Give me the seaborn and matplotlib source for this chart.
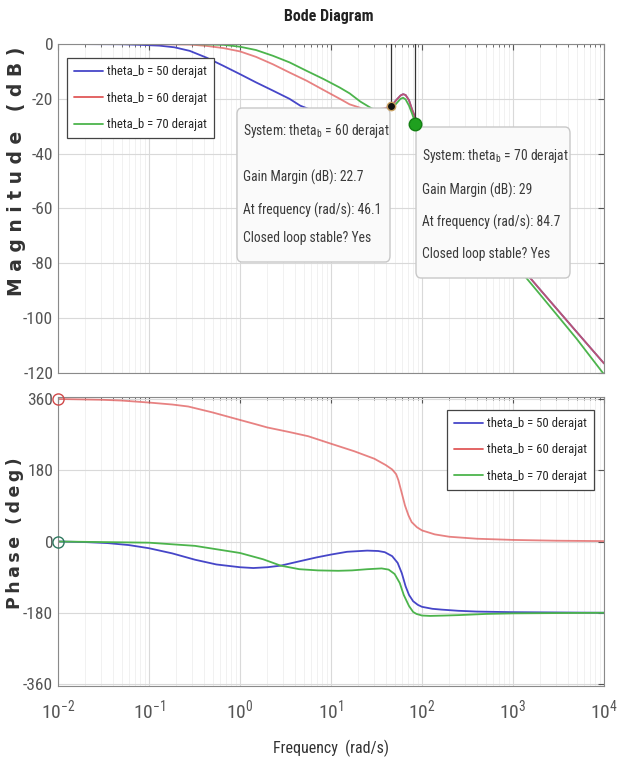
import numpy as np
import pandas as pd
import seaborn as sns
import matplotlib.pyplot as plt
from matplotlib import font_manager as fm
from matplotlib.patches import FancyBboxPatch
from matplotlib.lines import Line2D
from matplotlib.ticker import LogFormatterMathtext, FixedLocator, NullFormatter

# ---- data (freq in rad/s) ----
labels = ["theta_b = 50 derajat", "theta_b = 60 derajat", "theta_b = 70 derajat"]
colors = ["#4646c8", "#e05858", "#4cb44c"]

mag50_w = [0.01, 0.05, 0.08, 0.13, 0.19, 0.28, 0.43, 0.66, 1, 1.5, 2.3, 3.5, 4.6, 6, 8, 12, 18, 25, 32,
           40, 46.1, 52, 58, 62, 66, 72, 78, 84.7, 92, 100, 120, 150, 200, 300, 500, 1000, 2000, 5000, 10000]
mag50_db = [0, -0.1, -0.3, -0.6, -1.2, -2.5, -5, -8, -11, -14, -17, -20, -22.5, -24, -25.5, -26.5, -26.5,
            -25.5, -24.5, -23.5, -22.5, -20.5, -18.8, -18.3, -18.6, -20.5, -24, -27, -30, -33, -38, -42.5,
            -48.5, -55.5, -64.5, -78, -89.7, -105, -116.5]

mag60_w = [0.01, 0.1, 0.28, 0.43, 0.66, 1, 1.5, 2.3, 3.5, 5.4, 8.3, 12.5, 16, 22, 30, 38, 46.1, 52, 58, 62,
           66, 72, 78, 84.7, 92, 100, 120, 150, 200, 300, 500, 1000, 2000, 5000, 10000]
mag60_db = [0, -0.05, -0.2, -0.7, -1.5, -2.7, -4.7, -7.4, -10.4, -13.4, -16.8, -20, -22, -23.5, -24, -23.5,
            -22.7, -20.5, -18.8, -18.3, -18.6, -20.5, -24, -27, -30, -33, -38, -42.5, -48.5, -55.5, -64.5,
            -78, -89.7, -105, -116.5]

mag70_w = [0.01, 0.3, 0.66, 1, 1.5, 2.3, 3.5, 5.4, 8.3, 12.5, 16, 21, 28, 36, 42, 46.1, 52, 58, 62, 66, 72,
           78, 84.7, 92, 100, 120, 150, 200, 300, 500, 1000, 2000, 5000, 10000]
mag70_db = [0, -0.05, -0.3, -1, -2.2, -4.3, -6.7, -9.8, -12.8, -15.9, -18, -21, -23.5, -24.5, -24.3, -23.7,
            -21.8, -20, -19.6, -20.2, -22.5, -25.5, -29, -32, -35, -40, -44.5, -50.5, -57.5, -66.5, -79.5,
            -91.5, -107.5, -120.5]

ph50_w = [0.01, 0.02, 0.035, 0.06, 0.1, 0.18, 0.32, 0.55, 1.0, 1.4, 2.0, 2.8, 4.5, 7, 10, 15, 25, 33, 39, 47,
          54, 60, 66, 72, 80, 90, 100, 130, 163, 250, 400, 1000, 10000]
ph50_deg = [0, -1.5, -4, -9, -17, -30, -46, -58, -65, -67, -65, -61, -50, -40, -33, -26, -23, -24, -27, -37,
            -54, -80, -113, -135, -151, -160, -165, -170, -172, -175, -177, -178.5, -180]

ph60_w = [0.01, 0.03, 0.05, 0.1, 0.18, 0.27, 0.5, 1, 1.5, 2, 3.4, 5.6, 10, 18, 30, 40, 47, 52, 55, 60, 65,
          71, 77, 88, 100, 138, 200, 400, 1000, 3000, 10000]
ph60_deg = [360, 358, 356, 351, 346, 341, 326, 307, 296, 288, 277, 266, 247, 228, 209, 193, 182, 170, 155,
            122, 91, 66, 49, 36, 28, 18, 12, 7, 4, 2, 1]

ph70_w = [0.01, 0.1, 0.32, 1, 1.8, 2.8, 4.5, 7.2, 12, 17, 25, 36, 43, 50, 57, 63, 72, 80, 87, 100, 123, 180,
          250, 500, 1000, 10000]
ph70_deg = [0, -3, -11, -29, -45, -61, -70, -73, -74, -73, -70, -68, -71, -82, -105, -135, -163, -178, -183,
            -187, -188, -187, -186, -183, -181.5, -180]

decades = [1e-2, 1e-1, 1e0, 1e1, 1e2, 1e3, 1e4]
mag_ticks = [0, -20, -40, -60, -80, -100, -120]
phase_ticks = [360, 180, 0, -180, -360]

mag = pd.concat([
    pd.DataFrame({"Frequency": mag50_w, "Magnitude": mag50_db, "System": labels[0]}),
    pd.DataFrame({"Frequency": mag60_w, "Magnitude": mag60_db, "System": labels[1]}),
    pd.DataFrame({"Frequency": mag70_w, "Magnitude": mag70_db, "System": labels[2]}),
])
phase = pd.concat([
    pd.DataFrame({"Frequency": ph50_w, "Phase": ph50_deg, "System": labels[0]}),
    pd.DataFrame({"Frequency": ph60_w, "Phase": ph60_deg, "System": labels[1]}),
    pd.DataFrame({"Frequency": ph70_w, "Phase": ph70_deg, "System": labels[2]}),
])


# ---- fonts: MATLAB figure uses a narrow sans; take one if installed ----
def find_narrow(bold):
    want = 700 if bold else 400
    best = None
    for f in fm.fontManager.ttflist:
        low = (f.name + " " + f.fname).lower()
        st = str(f.stretch).lower()
        narrowish = "narrow" in low or (("condensed" in low or "condensed" in st)
                                         and "semi" not in low + st and "extra" not in low + st
                                         and "ultra" not in low + st)
        if not narrowish or f.style != "normal":
            continue
        w = f.weight if isinstance(f.weight, int) else fm.weight_dict.get(f.weight, 400)
        if abs(w - want) > 100:
            continue
        rank = 0 if "liberation" in low else (1 if "roboto" in low else 2)
        if best is None or rank < best[0]:
            best = (rank, f.fname)
    return best[1] if best else None


reg_file = find_narrow(False)
bold_file = find_narrow(True)
k = 1.0 if reg_file else 0.8


def fp(size, bold=False):
    f = bold_file if bold else reg_file
    if f:
        return fm.FontProperties(fname=f, size=size)
    return fm.FontProperties(family="Liberation Sans", weight="bold" if bold else "normal", size=size * k)


sns.set_style("white")
plt.rcParams["font.family"] = ["Liberation Sans", "DejaVu Sans"]
plt.rcParams["axes.unicode_minus"] = False

W, H = 622, 767
fig = plt.figure(figsize=(W / 100, H / 100), dpi=100)


def fx(x):
    return x / W


def fy(y):
    return 1 - y / H


ax1 = fig.add_axes([fx(58), fy(373), fx(604) - fx(58), fy(44) - fy(373)])
ax2 = fig.add_axes([fx(58), fy(686), fx(604) - fx(58), fy(397) - fy(686)])

pal = dict(zip(labels, colors))
sns.lineplot(data=mag, x="Frequency", y="Magnitude", hue="System", palette=pal, estimator=None,
             sort=False, lw=1.3, ax=ax1, legend=False)
sns.lineplot(data=phase, x="Frequency", y="Phase", hue="System", palette=pal, estimator=None,
             sort=False, lw=1.3, ax=ax2, legend=False)
for ax in (ax1, ax2):
    for ln, a in zip(ax.get_lines(), [1.0, 0.75, 1.0]):
        ln.set_alpha(a)

minor = [d * m for d in decades[:-1] for m in range(2, 10)]
tick_col = "#555555"
for ax in (ax1, ax2):
    ax.set_xscale("log")
    ax.set_xlim(1e-2, 1e4)
    ax.xaxis.set_major_locator(FixedLocator(decades))
    ax.xaxis.set_minor_locator(FixedLocator(minor))
    ax.xaxis.set_minor_formatter(NullFormatter())
    ax.grid(which="major", color="#d9d9d9", lw=0.8)
    ax.grid(which="minor", color="#efefef", lw=0.6)
    ax.tick_params(which="both", direction="in", top=True, right=True, colors=tick_col, length=4)
    ax.tick_params(which="minor", length=2.5)
    for s in ax.spines.values():
        s.set_color("#8a8a8a")
        s.set_linewidth(0.8)
    ax.set_xlabel("")
    ax.set_ylabel("")

ax1.set_ylim(-120, 0)
ax1.yaxis.set_major_locator(FixedLocator(mag_ticks))
ax1.tick_params(labelbottom=False)
ax2.set_ylim(-365, 365)
ax2.yaxis.set_major_locator(FixedLocator(phase_ticks))
ax2.xaxis.set_major_formatter(LogFormatterMathtext())
ax2.tick_params(axis="x", pad=9)
for ax in (ax1, ax2):
    for lbl in ax.get_yticklabels():
        lbl.set_fontproperties(fp(12.5))
for lbl in ax2.get_xticklabels():
    lbl.set_fontproperties(fp(14))

ts = "\u2009"
fig.text(fx(17), fy(171), " ".join("Magnitude") + "   " + " ".join("(dB)"), rotation=90, ha="center",
         va="center", fontsize=13.5, fontweight="bold", family="DejaVu Sans", color="#333333")
fig.text(fx(15), fy(533), ts.join("Phase") + "  " + ts.join("(deg)"), rotation=90, ha="center",
         va="center", fontsize=12.5, fontweight="bold", family="DejaVu Sans", color="#333333")
fig.text(fx(331), fy(748), "Frequency  (rad/s)", ha="center", va="center", fontproperties=fp(11.5),
         color="#333333")
fig.text(fx(329), fy(17), "Bode Diagram", ha="center", va="center", fontproperties=fp(11.5, True),
         color="#222222")

# gain margin stems
ax1.plot([46.1, 46.1], [0, -22.7], color="#333333", lw=0.9, zorder=4)
ax1.plot([84.7, 84.7], [0, -29], color="#333333", lw=0.9, zorder=4)

# starting circles on phase plot
ax2.plot([0.01], [360], "o", mfc="none", mec="#d04848", ms=8, clip_on=False, zorder=5)
ax2.plot([0.01], [0], "o", mfc="none", mec="#2f7a60", ms=8, clip_on=False, zorder=5)

# data tips
tips = [
    ((237, 108, 390, 262), (243, [131, 177, 210, 238]), "60", "22.7", "46.1"),
    ((416, 127, 570, 278), (422, [156, 190, 222, 254]), "70", "29", "84.7"),
]
for (x0, y0, x1, y1), (tx, tys), th, gm, fq in tips:
    box = FancyBboxPatch((fx(x0), fy(y1)), fx(x1) - fx(x0), fy(y0) - fy(y1),
                         boxstyle="round,pad=0,rounding_size=0.008", transform=fig.transFigure,
                         fc="#fafafa", ec="#c8c8c8", lw=1.0, zorder=6, clip_on=False)
    ax1.add_patch(box)
    lines = [r"System: theta$_\mathregular{b}$ = " + th + " derajat",
             "Gain Margin (dB): " + gm,
             "At frequency (rad/s): " + fq,
             "Closed loop stable? Yes"]
    for t, ty in zip(lines, tys):
        ax1.text(fx(tx), fy(ty), t, transform=fig.transFigure, ha="left", va="center",
                 fontproperties=fp(9.8), color="#3a3a3a", zorder=7, clip_on=False)

ax1.plot([46.1], [-22.7], "o", color="#111111", mec="#c8a060", ms=6, zorder=8, clip_on=False)
ax1.plot([84.7], [-29], "o", color="#1fa01f", mec="#128012", ms=9, zorder=8, clip_on=False)

handles = [Line2D([], [], color=c, lw=1.3) for c in colors]
leg_kw = dict(prop=fp(9.2), frameon=True, fancybox=False, edgecolor="#444444", framealpha=1,
              handlelength=2.3, labelspacing=1.05, borderpad=0.55, handletextpad=0.3, borderaxespad=0)
l1 = ax1.legend(handles, labels, loc="upper left", bbox_to_anchor=(0.016, 0.957), **leg_kw)
l2 = ax2.legend(handles, labels, loc="upper right", bbox_to_anchor=(0.982, 0.955), **leg_kw)
for lg in (l1, l2):
    lg.get_frame().set_linewidth(0.9)
    lg.set_zorder(10)

fig.savefig("out.png", dpi=100)
